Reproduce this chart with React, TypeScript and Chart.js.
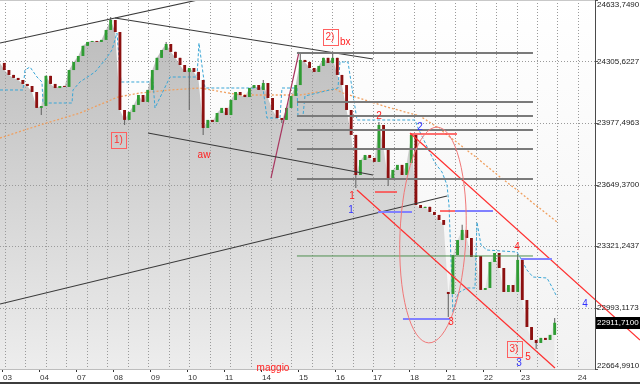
import React, { useEffect, useRef } from 'react';
import { Chart, registerables } from 'chart.js';

Chart.register(...registerables);

// ---------- axes ----------
const dayLabels = ['03', '04', '07', '08', '09', '10', '11', '14', '15', '16', '17', '18', '21', '22', '23'];
const barsPerDay = 8;
const futureDayLabel = '24';
const futureDayBar = 124.5;
const monthLabel = 'maggio';
const monthLabelBar = 58.6;

const priceTicks = [24633.749, 24305.6227, 23977.4963, 23649.37, 23321.2437, 22993.1173, 22664.991];
const priceMin = 22664.991;
const priceMax = 24633.749;
const barMin = -0.43;
const barMax = 128.22;
const gridStartBar = 0.65;
const gridStepBars = 4.424;

// ---------- price series (hourly closes) ----------
const closes = [
  24260, 24234, 24218, 24207, 24186, 24175, 24143, 24058,
  24068, 24229, 24186, 24164, 24175, 24170, 24260, 24303,
  24335, 24389, 24410, 24415, 24410, 24421, 24474, 24527,
  24463, 24047, 23994, 24036, 24074, 24127, 24090, 24154,
  24260, 24325, 24367, 24399, 24357, 24325, 24287, 24250,
  24271, 24250, 24207, 23951, 23994, 23983, 24031, 24058,
  24020, 24100, 24143, 24127, 24116, 24164, 24180, 24154,
  24191, 24111, 24047, 24004, 23994, 24058, 24122, 24180,
  24314, 24303, 24271, 24250, 24282, 24325, 24298, 24325,
  24234, 24180, 24047, 23914, 23700, 23780, 23807, 23791,
  23770, 23967, 23844, 23674, 23727, 23754, 23700, 23764,
  23914, 23540, 23524, 23530, 23503, 23487, 23460, 23434,
  23065, 23273, 23353, 23407, 23364, 23263, 23268, 23087,
  23097, 23236, 23284, 23204, 23076, 23113, 23076, 23247,
  23033, 22889, 22820, 22804, 22831, 22820, 22847, 22911.71,
];
const firstOpen = 24298;
const gapOpens: [number, number][] = [[96, 23076]];
const wickTips: [number, number][] = [
  [8, 24020], [23, 24543], [26, 23967], [35, 24410], [40, 24047], [43, 23914],
  [56, 24207], [60, 23978], [64, 24351], [71, 24357], [76, 23631], [81, 23983],
  [83, 23642], [88, 23924], [96, 22943], [99, 23434], [111, 23279], [115, 22772],
  [119, 22937],
];
const lastPrice = 22911.71;

// ---------- indicators ----------
const maPoints: [number, number][] = [
  [-0.43, 23897.4], [8.22, 23966.8], [16.86, 24030.8], [25.08, 24116.2], [29.84, 24137.5],
  [36.32, 24153.6], [42.81, 24164.2], [51.46, 24126.9], [64.43, 24126.9], [72.0, 24158.9],
  [73.73, 24137.5], [83.24, 24062.8], [90.38, 24014.8], [94.05, 23956.2], [96.86, 23902.8],
  [102.7, 23790.7], [107.68, 23689.4], [111.35, 23620.0], [114.81, 23550.7], [120.0, 23449.3],
];
const signalPoints: [number, number][] = [
  [-0.43, 24153.6], [4.54, 24153.6], [4.97, 24260.3], [6.05, 24276.3], [7.57, 24222.9],
  [8.65, 24196.3], [8.86, 24084.2], [15.14, 24084.2], [15.35, 24153.6], [16.86, 24196.3],
  [20.11, 24249.6], [22.27, 24313.6], [23.78, 24367.0], [24.86, 24457.7], [25.73, 24196.3],
  [32.65, 24196.3], [33.08, 24057.5], [36.32, 24222.9], [42.16, 24222.9], [42.59, 24404.3],
  [43.89, 24164.2], [56.43, 24164.2], [57.3, 24004.2], [60.11, 24004.2], [60.54, 24164.2],
  [63.78, 24164.2], [64.0, 24015.0], [65.08, 24015.0], [65.51, 24121.6], [72.65, 24164.2],
  [73.08, 24302.9], [74.81, 24302.9], [76.76, 23993.5], [89.3, 23993.5], [89.95, 23950.8],
  [93.62, 23764.0], [95.14, 23716.0], [96.22, 23646.7], [96.65, 23540.0], [97.51, 22963.7],
  [98.59, 23070.4], [100.54, 23097.2], [102.27, 23097.2], [102.7, 23449.3], [103.57, 23326.5],
  [104.86, 23299.9], [111.35, 23289.2], [112.0, 23262.6], [113.51, 23193.2], [114.81, 23155.8],
  [117.84, 23150.5], [118.92, 23102.5], [120.0, 23049.2],
];

// ---------- drawn objects ----------
const blackTrendLines: [number, number, number, number][] = [
  [-0.43, 24404.3, 42.38, 24633.75],
  [24.43, 24537.7, 80.22, 24318.9],
  [31.57, 23924.1, 80.22, 23700.0],
  [-0.43, 23011.8, 96.22, 23588.0],
];
const maroonTrendLine: [number, number, number, number] = [58.16, 23684.0, 64.22, 24356.3];
const fiboLevels = [24351, 24089.5, 24015, 23940.1, 23838.8, 23678.7];
const levelFromBar = 63.78;
const levelToBar = 114.81;
const greenLevel = 23268;
const blueSegments: [number, number, number][] = [
  [81.3, 88.65, 23502.6], [97.95, 106.16, 23507.9], [86.7, 96.86, 22931.7], [112.2, 118.9, 23251.9],
];
const redSegments: [number, number, number][] = [
  [80.65, 85.41, 23609.3], [88.22, 98.38, 23918.8], [94.7, 97.95, 23507.9],
];
const channelLow: [number, number, number, number] = [76.76, 23620.0, 119.57, 22670.3];
const channelHigh: [number, number, number, number] = [88.22, 23924.1, 137.95, 22819.7];
const ellipseCenter: [number, number] = [93.19, 23379.9];
const ellipseRadius: [number, number] = [7.14, 576];

type Lbl = { text: string; bar: number; price: number; color: string; boxed?: boolean };
const waveLabels: Lbl[] = [
  { text: '1)', bar: 25.19, price: 23886.8, color: '#ff3030', boxed: true },
  { text: 'aw', bar: 43.68, price: 23806.7, color: '#ff2020' },
  { text: '2)', bar: 70.92, price: 24436.3, color: '#ff3030', boxed: true },
  { text: 'bx', bar: 74.2, price: 24410, color: '#ff2020' },
  { text: '1', bar: 75.68, price: 23588, color: '#ff2020' },
  { text: '1', bar: 75.46, price: 23513, color: '#3030ff' },
  { text: '2', bar: 81.51, price: 24014.8, color: '#ff2020' },
  { text: '2', bar: 90.38, price: 23956, color: '#3030ff' },
  { text: '3', bar: 97.08, price: 22915.7, color: '#ff2020' },
  { text: '4', bar: 111.35, price: 23315.9, color: '#ff2020' },
  { text: '4', bar: 126.05, price: 23011.8, color: '#3030ff' },
  { text: '3)', bar: 110.7, price: 22771.6, color: '#ff3030', boxed: true },
  { text: '5', bar: 113.73, price: 22729, color: '#ff2020' },
  { text: '3', bar: 111.78, price: 22697, color: '#3030ff' },
];

const FONT = "'Liberation Sans', Arial, sans-serif";

function fmt(v: number) {
  return v.toFixed(4).replace('.', ',');
}

const overlayPlugin = {
  id: 'overlay',
  beforeDraw(chart: any) {
    const { ctx, chartArea: a, width, height } = chart;
    ctx.save();
    ctx.fillStyle = '#ffffff';
    ctx.fillRect(0, 0, width, height);
    const g = ctx.createLinearGradient(0, a.top, 0, a.bottom);
    g.addColorStop(0, '#ffffff');
    g.addColorStop(1, '#f2f2f2');
    ctx.fillStyle = g;
    ctx.fillRect(a.left, a.top, a.right - a.left, a.bottom - a.top);
    ctx.restore();
  },
  afterDatasetDraw(chart: any, args: any) {
    if (args.index !== 0) return;
    const { ctx, chartArea: a, scales } = chart;
    ctx.save();
    ctx.strokeStyle = '#9a9a9a';
    ctx.lineWidth = 1;
    ctx.setLineDash([1, 2]);
    for (const p of priceTicks) {
      const y = Math.round(scales.y.getPixelForValue(p)) + 0.5;
      ctx.beginPath();
      ctx.moveTo(a.left, y);
      ctx.lineTo(a.right, y);
      ctx.stroke();
    }
    for (let b = gridStartBar; b < barMax; b += gridStepBars) {
      const x = Math.round(scales.x.getPixelForValue(b)) + 0.5;
      ctx.beginPath();
      ctx.moveTo(x, a.top);
      ctx.lineTo(x, a.bottom);
      ctx.stroke();
    }
    ctx.restore();
  },
  afterDatasetsDraw(chart: any) {
    const { ctx, scales } = chart;
    const xs = scales.x;
    const ys = scales.y;
    ctx.save();
    // ellipse
    const cx = xs.getPixelForValue(ellipseCenter[0]);
    const cy = ys.getPixelForValue(ellipseCenter[1]);
    const rx = Math.abs(xs.getPixelForValue(ellipseCenter[0] + ellipseRadius[0]) - cx);
    const ry = Math.abs(ys.getPixelForValue(ellipseCenter[1] + ellipseRadius[1]) - cy);
    ctx.strokeStyle = '#f07878';
    ctx.lineWidth = 1;
    ctx.beginPath();
    ctx.ellipse(cx, cy, rx, ry, 0.04, 0, Math.PI * 2);
    ctx.stroke();
    // labels
    ctx.font = `10px ${FONT}`;
    ctx.textAlign = 'center';
    ctx.textBaseline = 'middle';
    for (const l of waveLabels) {
      const x = xs.getPixelForValue(l.bar);
      const y = ys.getPixelForValue(l.price);
      ctx.fillStyle = l.color;
      ctx.fillText(l.text, x, y);
      if (l.boxed) {
        const w = ctx.measureText(l.text).width + 6;
        ctx.strokeStyle = '#ff6060';
        ctx.strokeRect(Math.round(x - w / 2) + 0.5, Math.round(y - 8) + 0.5, Math.round(w), 16);
      }
    }
    ctx.restore();
  },
  afterDraw(chart: any) {
    const { ctx, chartArea: a, scales, width, height } = chart;
    const xs = scales.x;
    const ys = scales.y;
    ctx.save();
    // frame
    ctx.fillStyle = '#c8c8c8';
    ctx.fillRect(a.left, a.top, a.right - a.left, 1);
    ctx.fillStyle = '#bdbdbd';
    ctx.fillRect(0, a.bottom, a.right, 1);
    ctx.fillStyle = '#4a4a4a';
    ctx.fillRect(a.right, 0, 1, a.bottom + 1);
    ctx.fillStyle = '#3c3c3c';
    ctx.fillRect(0, height - 2, width, 2);
    // price labels
    ctx.font = `8px ${FONT}`;
    ctx.textAlign = 'left';
    ctx.fillStyle = '#222';
    priceTicks.forEach((p, i) => {
      const y = ys.getPixelForValue(p);
      ctx.fillStyle = '#555';
      ctx.fillRect(a.right + 1, Math.round(y), 2, 1);
      ctx.fillStyle = '#222';
      if (i === 0) {
        ctx.textBaseline = 'top';
        ctx.fillText(fmt(p), a.right + 2, y + 1);
      } else if (i === priceTicks.length - 1) {
        ctx.textBaseline = 'bottom';
        ctx.fillText(fmt(p), a.right + 2, y + 1);
      } else {
        ctx.textBaseline = 'middle';
        ctx.fillText(fmt(p), a.right + 2, y);
      }
    });
    // current price
    const ly = ys.getPixelForValue(lastPrice);
    ctx.fillStyle = '#000';
    ctx.fillRect(a.right + 1, Math.round(ly) - 6, width - a.right - 1, 12);
    ctx.fillStyle = '#fff';
    ctx.textBaseline = 'middle';
    ctx.fillText(fmt(lastPrice), a.right + 2, ly);
    // date labels
    ctx.fillStyle = '#333';
    ctx.textBaseline = 'middle';
    const ty = a.bottom + 9;
    dayLabels.forEach((d, k) => {
      const x = xs.getPixelForValue(k * barsPerDay);
      ctx.fillRect(Math.round(x), a.bottom + 1, 1, 2);
      ctx.fillText(d, x + 1, ty);
    });
    ctx.fillText(futureDayLabel, xs.getPixelForValue(futureDayBar), ty);
    // month label
    ctx.font = `10px ${FONT}`;
    ctx.fillStyle = '#ff2020';
    ctx.textAlign = 'center';
    ctx.fillText(monthLabel, xs.getPixelForValue(monthLabelBar), a.bottom - 1);
    ctx.restore();
  },
};

function seg(x1: number, y1: number, x2: number, y2: number, color: string, width: number, extra: any = {}) {
  return {
    type: 'line',
    data: [{ x: x1, y: y1 }, { x: x2, y: y2 }],
    borderColor: color,
    borderWidth: width,
    pointRadius: 0,
    fill: false,
    tension: 0,
    order: 10,
    ...extra,
  };
}

export default function App() {
  const ref = useRef<HTMLCanvasElement | null>(null);
  useEffect(() => {
    document.body.style.margin = '0';
    const canvas = ref.current;
    if (!canvas) return;

    const opens = closes.map((c, i) => {
      const g = gapOpens.find(([k]) => k === i);
      if (g) return g[1];
      return i === 0 ? firstOpen : closes[i - 1];
    });
    const bodies = closes.map((c, i) => ({ x: i + 0.5, y: [opens[i], c] }));
    const bodyColors = closes.map((c, i) => (c >= opens[i] ? '#2f9c33' : '#8c1010'));
    const wicks = closes.map((c, i) => {
      const t = wickTips.find(([k]) => k === i);
      const tip = t ? t[1] : c;
      return { x: i + 0.5, y: [Math.min(opens[i], c, tip), Math.max(opens[i], c, tip)] };
    });
    const area = [{ x: barMin, y: firstOpen }, ...closes.map((c, i) => ({ x: i + 0.5, y: c }))];

    const datasets: any[] = [
      {
        type: 'line',
        data: area,
        borderWidth: 0,
        pointRadius: 0,
        fill: 'start',
        tension: 0,
        order: 100,
        backgroundColor: (ctx: any) => {
          const a = ctx.chart.chartArea;
          if (!a) return '#cccccc';
          const g = ctx.chart.ctx.createLinearGradient(0, a.top, 0, a.bottom);
          g.addColorStop(0, '#b9b9b9');
          g.addColorStop(1, '#ededed');
          return g;
        },
      },
      {
        type: 'line',
        data: maPoints.map(([x, y]) => ({ x, y })),
        borderColor: '#f0a060',
        borderWidth: 1.3,
        borderDash: [2, 2],
        pointRadius: 0,
        fill: false,
        tension: 0,
        order: 90,
      },
      {
        type: 'line',
        data: signalPoints.map(([x, y]) => ({ x, y })),
        borderColor: '#3aa6d6',
        borderWidth: 1,
        borderDash: [3, 2],
        pointRadius: 0,
        fill: false,
        tension: 0,
        order: 80,
      },
      {
        type: 'bar',
        data: wicks,
        backgroundColor: '#6a6a6a',
        grouped: false,
        barPercentage: 0.24,
        categoryPercentage: 1,
        borderWidth: 0,
        order: 70,
      },
      {
        type: 'bar',
        data: bodies,
        backgroundColor: bodyColors,
        grouped: false,
        barPercentage: 0.62,
        categoryPercentage: 1,
        borderWidth: 0,
        minBarLength: 1,
        order: 60,
      },
    ];
    for (const l of fiboLevels) datasets.push(seg(levelFromBar, l, levelToBar, l, '#7a7a7a', 2));
    datasets.push(seg(levelFromBar, greenLevel, levelToBar, greenLevel, '#4f8f4f', 1));
    for (const [a, b, p] of blueSegments) datasets.push(seg(a, p, b, p, '#8080ff', 2));
    for (const [a, b, p] of redSegments) datasets.push(seg(a, p, b, p, '#ff4040', 1.5));
    for (const t of blackTrendLines) datasets.push(seg(t[0], t[1], t[2], t[3], '#3a3a3a', 1.2));
    datasets.push(seg(maroonTrendLine[0], maroonTrendLine[1], maroonTrendLine[2], maroonTrendLine[3], '#a83660', 1.2));
    datasets.push(seg(channelLow[0], channelLow[1], channelLow[2], channelLow[3], '#ff3030', 1.2));
    datasets.push(seg(channelHigh[0], channelHigh[1], channelHigh[2], channelHigh[3], '#ff3030', 1.2, { clip: false }));

    const chart = new Chart(canvas, {
      type: 'line',
      data: { datasets },
      options: {
        animation: false,
        responsive: false,
        events: [],
        layout: { padding: { left: 0, right: 45, top: 0, bottom: 15 } },
        plugins: { legend: { display: false }, tooltip: { enabled: false } },
        scales: {
          x: { type: 'linear', min: barMin, max: barMax, display: false, offset: false, grid: { offset: false } },
          y: { type: 'linear', min: priceMin, max: priceMax, display: false },
        },
      },
      plugins: [overlayPlugin],
    } as any);
    return () => chart.destroy();
  }, []);

  return (
    <div style={{ width: 640, height: 384 }}>
      <canvas ref={ref} width={640} height={384} style={{ display: 'block' }} />
    </div>
  );
}
